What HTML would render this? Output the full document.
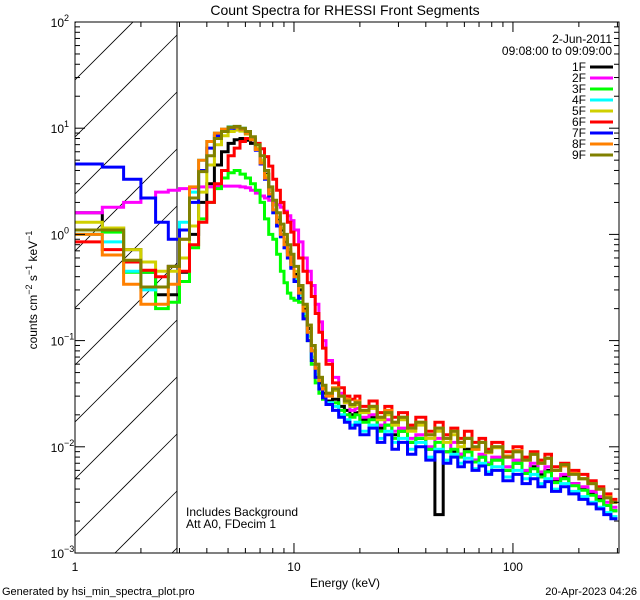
<!DOCTYPE html>
<html><head><meta charset="utf-8">
<style>
html,body{margin:0;padding:0;background:#fff;width:640px;height:600px;overflow:hidden;}
svg{display:block;font-family:"Liberation Sans",sans-serif;}
</style></head>
<body>
<svg id="chart" width="640" height="600" viewBox="0 0 640 600">
  <defs><clipPath id="plotclip"><rect x="75" y="22" width="544" height="531"/></clipPath></defs>
  <rect x="0" y="0" width="640" height="600" fill="#fff"/>
  <text x="345" y="15" font-size="14" text-anchor="middle">Count Spectra for RHESSI Front Segments</text>
  <g id="hatch" clip-path="url(#plotclip)"></g>
  <line x1="177" y1="22" x2="177" y2="553" stroke="#000" stroke-width="1"/>
  <g id="series" clip-path="url(#plotclip)"></g>
  <g id="axes"></g>
  <g id="legend"></g>
  <text x="186" y="516" font-size="12">Includes Background</text>
  <text x="186" y="528" font-size="12">Att A0, FDecim 1</text>
  <text x="345" y="587" font-size="12" text-anchor="middle">Energy (keV)</text>
  <text transform="translate(37,290) rotate(-90)" font-size="12" text-anchor="middle">counts cm<tspan baseline-shift="super" font-size="9">−2</tspan> s<tspan baseline-shift="super" font-size="9">−1</tspan> keV<tspan baseline-shift="super" font-size="9">−1</tspan></text>
  <text x="2" y="595" font-size="11">Generated by hsi_min_spectra_plot.pro</text>
  <text x="637" y="595" font-size="11" text-anchor="end">20-Apr-2023 04:26</text>
</svg>
<script>
const edges = [1,1.333,1.667,2,2.333,2.667,3,3.333,3.667,4,4.333,4.667,5,5.333,5.667,6,6.333,6.667,7,7.333,7.667,8,8.333,8.667,9,9.333,9.667,10,10.5,11,11.5,12,12.5,13,13.5,14,15,16,17,18,19,20,22,24,26,28,30,33,36,40,44,48,52,56,60,65,70,75,80,90,100,110,120,130,140,150,165,180,200,220,240,260,280,300];
const seriesNames = ["1F","2F","3F","4F","5F","6F","7F","8F","9F"];
const seriesColors = ["#000000","#ff00ff","#00ff00","#00ffff","#d0d000","#ff0000","#0000ff","#ff8000","#808000"];
const s1F = [1.6,1.15,0.72,0.44,0.27,0.27,0.44,1.0,2.0,3.0,4.5,6.0,7.2,7.8,8.0,7.7,7.2,6.3,5.0,3.7,2.6,1.9,1.4,1.1,0.85,0.68,0.55,0.42,0.3,0.2,0.13,0.08,0.055,0.04,0.032,0.027,
 .028,.024,.022,.02,.021,.018,.019,.015,.016,.013,.014,.011,.012,.0095,.0023,.009,.009,.0085,.0095,.0075,.008,.007,.0075,.006,.007,.0058,.0065,.0055,.006,.0048,.0052,.0045,.004,.0036,.0032,.0028,.0025];
const s2F = [1.6,1.8,2.0,2.2,2.5,2.6,2.7,2.75,2.8,2.8,2.85,2.85,2.85,2.85,2.8,2.75,2.6,2.45,2.3,2.2,2.1,2.0,1.9,1.8,1.65,1.5,1.35,1.1,0.85,0.6,0.45,0.33,0.22,0.15,0.1,0.065,
 .045,.032,.026,.022,.023,.019,.02,.016,.018,.014,.015,.012,.013,.01,.012,.009,.011,.0085,.009,.0075,.0085,.007,.008,.0065,.0075,.006,.007,.0058,.0065,.005,.0055,.0045,.0042,.0038,.0034,.003,.0027];
const s3F = [1.0,1.05,0.44,0.44,0.2,0.23,0.36,0.75,1.4,2.0,2.7,3.4,3.8,4.0,3.7,3.4,3.0,2.6,2.0,1.4,1.0,0.9,0.65,0.45,0.35,0.28,0.25,0.24,0.23,0.17,0.1,0.06,0.04,0.032,0.028,0.025,
 .026,.022,.02,.019,.02,.017,.018,.014,.016,.012,.014,.011,.012,.0095,.011,.009,.0095,.008,.009,.0072,.008,.0068,.0075,.006,.007,.0056,.0062,.0052,.0058,.0046,.005,.0043,.0039,.0035,.0031,.0028,.0025];
const s4F = [1.0,0.85,0.45,0.3,0.32,0.5,1.3,2.5,5.0,7.5,9.0,9.8,10.3,10.3,10.0,9.2,8.0,6.5,4.8,3.4,2.3,1.6,1.2,0.95,0.75,0.6,0.5,0.38,0.27,0.18,0.11,0.07,0.048,0.036,0.03,0.026,
 .024,.02,.018,.016,.017,.014,.016,.012,.014,.011,.012,.0095,.011,.008,.0095,.0075,.0085,.007,.0078,.0062,.007,.0058,.0065,.0052,.006,.005,.0055,.0045,.005,.004,.0045,.0038,.0034,.003,.0027,.0024,.0022];
const s5F = [1.3,1.15,0.72,0.55,0.45,0.45,0.6,1.2,2.5,4.5,7.0,8.5,9.3,9.6,9.4,8.8,7.8,6.5,5.0,3.6,2.6,1.9,1.45,1.15,0.9,0.72,0.58,0.45,0.32,0.21,0.14,0.09,0.06,0.045,0.036,0.032,
 .034,.03,.026,.024,.025,.021,.023,.018,.02,.016,.018,.014,.016,.012,.014,.011,.013,.01,.012,.0095,.011,.0088,.0098,.008,.009,.0075,.0085,.007,.0078,.006,.0068,.0056,.005,.0046,.004,.0034,.003];
const s6F = [0.85,0.72,0.55,0.46,0.4,0.5,0.45,0.8,1.3,2.0,3.0,4.0,5.5,6.5,7.5,8.0,7.8,7.2,6.4,5.4,4.4,3.3,2.6,2.0,1.6,1.3,1.05,0.8,0.6,0.45,0.35,0.26,0.18,0.12,0.085,0.06,
 .04,.036,.03,.028,.03,.024,.027,.021,.024,.019,.021,.016,.019,.014,.017,.013,.015,.012,.014,.011,.012,.0095,.011,.009,.01,.008,.009,.0075,.0085,.0065,.007,.006,.0055,.0048,.0042,.0036,.0032];
const s7F = [4.6,4.3,3.3,2.2,1.3,0.9,1.1,2.0,4.0,6.5,8.5,9.5,10.0,10.2,9.8,9.0,7.8,6.2,4.6,3.3,2.3,1.6,1.2,0.95,0.75,0.6,0.48,0.36,0.25,0.16,0.1,0.065,0.045,0.035,0.029,0.025,
 .022,.019,.017,.015,.016,.013,.015,.011,.013,.0095,.011,.0085,.01,.0075,.009,.007,.008,.0065,.0072,.006,.0066,.0055,.006,.0048,.0055,.0045,.005,.0042,.0047,.0038,.0042,.0036,.0032,.0029,.0026,.0023,.0021];
const s8F = [1.0,0.64,0.34,0.22,0.22,0.34,0.9,2.8,5.0,7.5,9.0,9.8,10.2,10.2,9.8,9.0,7.8,6.3,4.7,3.4,2.4,1.7,1.3,1.0,0.8,0.64,0.52,0.4,0.28,0.19,0.12,0.08,0.055,0.042,0.035,0.03,
 .036,.03,.028,.025,.027,.022,.024,.019,.022,.017,.019,.015,.017,.013,.015,.012,.014,.011,.012,.0095,.011,.009,.01,.0082,.0092,.0075,.0085,.007,.0078,.006,.0066,.0056,.005,.0045,.004,.0034,.003];
const s9F = [1.1,1.1,0.57,0.32,0.32,0.5,0.9,2.2,3.9,5.5,8.0,9.3,10.2,10.4,10.0,9.3,8.3,7.0,5.5,4.0,2.8,2.1,1.6,1.25,1.0,0.8,0.65,0.5,0.33,0.22,0.14,0.09,0.06,0.045,0.038,0.032,
 .035,.03,.027,.025,.026,.022,.024,.019,.021,.017,.019,.015,.017,.013,.015,.012,.014,.011,.012,.01,.011,.009,.01,.008,.009,.0075,.0085,.007,.0078,.006,.0068,.0055,.005,.0045,.004,.0033,.003];
const seriesValues = [s1F,s2F,s3F,s4F,s5F,s6F,s7F,s8F,s9F];
const xTickLabels = ["1","10","100"];
const yTickExps = ["-3","-2","-1","0","1","2"];
const legendDate = "2-Jun-2011";
const legendTime = "09:08:00 to 09:09:00";

const NS = "http://www.w3.org/2000/svg";
const L = 75, R = 619, T = 22, B = 553;
const xMin = 1, xMax = 305, yMin = 1e-3, yMax = 100;
function xs(e){ return L + (Math.log10(e) - Math.log10(xMin)) / (Math.log10(xMax) - Math.log10(xMin)) * (R - L); }
function ys(v){ return B - (Math.log10(v) - Math.log10(yMin)) / (Math.log10(yMax) - Math.log10(yMin)) * (B - T); }
function mk(tag, attrs, parent){ const el = document.createElementNS(NS, tag); for (const k in attrs) el.setAttribute(k, attrs[k]); parent.appendChild(el); return el; }

const hatch = document.getElementById('hatch');
for (let c = 137 - 57*4; c < 700; c += 57) {
  const ln = mk('line', {x1: 75, y1: c, x2: 177, y2: c - 102, stroke: '#000', 'stroke-width': 0.8}, hatch);
  
  
}

const sg = document.getElementById('series');
seriesValues.forEach((vals, si) => {
  let d = '';
  for (let i = 0; i < vals.length; i++) {
    const x0 = xs(edges[i]).toFixed(1), x1 = xs(edges[i+1]).toFixed(1), y = ys(vals[i]).toFixed(1);
    d += (i === 0 ? 'M' : 'L') + x0 + ',' + y + 'L' + x1 + ',' + y;
  }
  const p = mk('path', {d: d, fill: 'none', stroke: seriesColors[si], 'stroke-width': 3, 'stroke-linejoin': 'miter'}, sg);
  
  
});

const ax = document.getElementById('axes');
const frame = mk('rect', {x: L, y: T, width: R - L, height: B - T, fill: 'none', stroke: '#000', 'stroke-width': 1}, ax);


for (let dec = 1; dec <= 100; dec *= 10) {
  for (let m = 1; m <= 9; m++) {
    const e = dec * m;
    if (e < xMin || e > xMax) continue;
    const x = xs(e), len = m === 1 ? 10 : 5;
    const t1 = mk('line', {x1: x, y1: B, x2: x, y2: B - len, stroke: '#000'}, ax);
    
    
    const t2 = mk('line', {x1: x, y1: T, x2: x, y2: T + len, stroke: '#000'}, ax);
    
    
  }
}
xTickLabels.forEach(lbl => {
  const t = mk('text', {x: xs(parseFloat(lbl)), y: B + 18, 'font-size': 12, 'text-anchor': 'middle'}, ax);
  t.textContent = lbl;
  
  
});
for (let p = -3; p <= 1; p++) {
  for (let m = 1; m <= 9; m++) {
    const v = Math.pow(10, p) * m, y = ys(v), len = m === 1 ? 10 : 5;
    const t1 = mk('line', {x1: L, y1: y, x2: L + len, y2: y, stroke: '#000'}, ax);
    
    
    const t2 = mk('line', {x1: R, y1: y, x2: R - len, y2: y, stroke: '#000'}, ax);
    
    
  }
}
yTickExps.forEach(ex => {
  const y = ys(Math.pow(10, parseFloat(ex)));
  const t = mk('text', {x: 64, y: y + 5, 'font-size': 12, 'text-anchor': 'end'}, ax);
  t.textContent = '10';
  
  
  const s = mk('text', {x: 64, y: y - 1, 'font-size': 9, 'text-anchor': 'start'}, ax);
  s.textContent = ex.replace('-', '−');
  
  
});

const lg = document.getElementById('legend');
const ld = mk('text', {x: 612, y: 43, 'font-size': 12, 'text-anchor': 'end'}, lg);
ld.textContent = legendDate;


const lt = mk('text', {x: 612, y: 55, 'font-size': 12, 'text-anchor': 'end'}, lg);
lt.textContent = legendTime;


seriesNames.forEach((nm, i) => {
  const y = 67 + i * 11;
  const g = mk('g', {}, lg);
  
  
  const t = mk('text', {x: 586, y: y + 4, 'font-size': 12, 'text-anchor': 'end'}, g);
  t.textContent = nm;
  
  
  const l = mk('line', {x1: 590, y1: y, x2: 613, y2: y, stroke: seriesColors[i], 'stroke-width': 3}, g);
  
  
});
</script>
</body></html>
